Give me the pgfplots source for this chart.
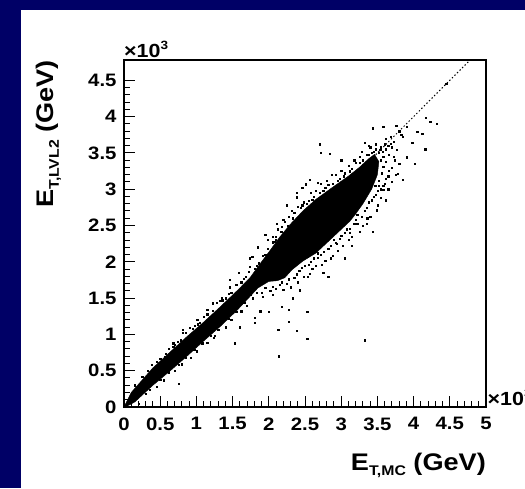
\documentclass[border=0pt]{standalone}
\usepackage{pgfplots}
\pgfplotsset{compat=1.18}
\usepackage{fontspec}
\setmainfont{Liberation Sans}[FakeStretch=1.13]
\definecolor{slidebg}{RGB}{0,0,102}
\begin{document}
\begin{tikzpicture}[x=1pt,y=1pt]
\useasboundingbox (0,0) rectangle (525,488);
\fill[slidebg] (0,0) rectangle (525,488);
\fill[white] (21,0) rectangle (525,478);
\begin{axis}[
  at={(124pt,81pt)}, anchor=south west,
  scale only axis, width=362pt, height=347pt,
  xmin=0, xmax=5, ymin=0, ymax=4.78,
  axis on top,
  clip mode=individual,
  axis line style={line width=1.4pt, black},
  xtick={0,0.5,1,1.5,2,2.5,3,3.5,4,4.5,5},
  xticklabels={0,0.5,1,1.5,2,2.5,3,3.5,4,4.5,5},
  ytick={0,0.5,1,1.5,2,2.5,3,3.5,4,4.5},
  yticklabels={0,0.5,1,1.5,2,2.5,3,3.5,4,4.5},
  minor tick num=4,
  tick align=inside,
  tick pos=left,
  major tick length=11pt,
  minor tick length=6pt,
  every tick/.style={line width=1pt, black},
  tick label style={font=\fontsize{18}{18}\selectfont\bfseries},
  xticklabel style={yshift=-7pt},
  yticklabel style={xshift=-4pt},
]
% dense core of the distribution
\addplot[fill=black, draw=black, line width=0.4pt] coordinates {
(0.00,0.00) (0.10,0.20) (0.40,0.54) (0.64,0.76) (0.87,0.97) (1.09,1.16)
(1.33,1.38) (1.56,1.60) (1.74,1.78) (1.90,2.00) (2.02,2.16) (2.15,2.34)
(2.30,2.52) (2.47,2.70) (2.65,2.86) (2.90,3.04) (3.10,3.18) (3.25,3.30)
(3.38,3.42) (3.46,3.48) (3.52,3.38) (3.50,3.20)
(3.42,3.00) (3.30,2.80) (3.20,2.66) (3.12,2.56) (2.95,2.40) (2.80,2.26)
(2.65,2.12) (2.47,2.01) (2.32,1.89) (2.22,1.78) (2.12,1.74) (2.00,1.73)
(1.85,1.64) (1.70,1.48) (1.56,1.33) (1.33,1.11) (1.09,0.90) (0.87,0.70)
(0.64,0.50) (0.40,0.30) (0.15,0.07) (0.02,0.00)
};
% scattered events
\addplot[only marks, mark=square*, mark size=0.6pt, black] coordinates {
(2.707,3.62) (2.845,3.485) (2.72,3.50) (3.33,3.64) (3.43,3.84) (3.58,3.86)
(3.76,3.88) (4.17,3.99) (4.32,3.90) (4.23,3.93) (4.16,3.55) (4.01,3.35)
(3.85,3.13) (3.62,2.85) (3.44,2.41) (3.33,0.92) (3.14,2.22) (3.05,2.05)
(2.82,1.79) (2.53,1.31) (2.53,0.94) (2.39,1.05) (2.13,1.06) (2.14,0.70)
(1.53,0.88) (0.75,0.32) (1.95,2.37) (1.77,2.07) (2.25,2.78) (2.39,2.95)
(2.51,3.07) (2.46,3.02) (3.00,3.40) (2.28,1.34) (2.27,1.17) (2.00,1.31)
(1.88,1.32) (1.81,1.23) (1.81,1.16) (1.60,1.10) (1.24,0.95) (0.81,1.06)
(0.68,0.83) (1.15,1.34) (1.33,1.46) (1.05,1.16) (1.46,1.75) (1.74,2.05)
(1.85,2.19) (2.10,2.30) (2.67,2.12) (2.73,1.96) (2.75,1.85) (2.54,1.79)
(2.43,1.61) (2.33,1.50) (2.18,1.38) (2.54,2.07) (2.94,2.25) (3.12,2.40)
(3.22,2.53) (3.36,2.60) (3.49,2.71) (3.58,2.99) (3.78,3.21) (3.74,3.40)
(3.91,3.44) (3.98,3.64) (3.85,3.72) (4.05,3.79) (4.12,3.77) (3.77,3.54)
(3.54,3.54) (3.58,3.31) (3.36,3.17) (3.12,3.24) (3.08,3.15) (2.87,3.20)
(2.67,3.09) (2.57,3.13) (2.39,2.89) (2.46,2.78) (2.20,2.58) (2.11,2.53)
(1.99,2.30) (1.85,2.20) (1.74,1.93) (1.58,1.85) (1.46,1.65) (1.35,1.50)
(1.23,1.43) (1.15,1.29) (1.01,1.20) (0.91,1.09) (0.81,1.02) (0.68,0.88)
(0.57,0.69) (4.45,4.45)
(0.25,0.42) (0.33,0.50) (0.50,0.66) (0.58,0.73) (0.70,0.86) (0.78,0.92)
(0.95,1.08) (1.02,1.14) (1.15,1.27) (1.22,1.33) (1.40,1.50) (1.48,1.58)
(1.62,1.72) (1.68,1.79) (1.80,1.90) (1.86,1.98) (1.95,2.10) (2.05,2.27)
(2.10,2.35) (2.22,2.55) (2.35,2.68) (2.40,2.76) (2.55,2.84) (2.62,2.90)
(2.75,2.98) (2.82,3.06) (2.98,3.15) (3.05,3.22) (3.15,3.28) (3.20,3.36)
(3.30,3.40) (3.35,3.47) (3.45,3.52) (3.55,3.58) (3.60,3.62) (3.65,3.60)
(0.20,0.05) (0.30,0.18) (0.45,0.28) (0.55,0.37) (0.70,0.50) (0.80,0.59)
(0.92,0.68) (1.00,0.77) (1.15,0.89) (1.25,0.98) (1.40,1.10) (1.48,1.20)
(1.62,1.32) (1.70,1.40) (1.78,1.50) (1.90,1.58) (2.05,1.66) (2.15,1.68)
(2.25,1.70) (2.38,1.83) (2.45,1.92) (2.55,1.96) (2.62,2.05) (2.72,2.10)
(2.85,2.22) (2.90,2.30) (3.00,2.36) (3.08,2.45) (3.18,2.52) (3.22,2.65)
(3.32,2.70) (3.38,2.82) (3.45,2.90) (3.50,2.98) (3.58,3.05) (3.62,3.15)
(3.66,3.25)
(0.15,0.30) (0.38,0.58) (0.45,0.62) (0.62,0.80) (0.74,0.90) (0.85,1.02)
(0.98,1.12) (1.10,1.24) (1.28,1.44) (1.36,1.47) (1.45,1.56) (1.55,1.68)
(1.65,1.77) (1.72,1.86) (1.83,1.95) (1.92,2.08) (1.98,2.18) (2.08,2.28)
(2.17,2.42) (2.26,2.50) (2.33,2.60) (2.44,2.74) (2.52,2.80) (2.60,2.86)
(2.70,2.95) (2.78,3.02) (2.88,3.08) (2.95,3.12) (3.03,3.18) (3.12,3.25)
(3.26,3.36) (3.38,3.47) (3.48,3.55) (3.52,3.50) (3.42,3.50) (3.57,3.52)
(3.62,3.55) (3.68,3.63) (3.70,3.58) (3.72,3.66)
(0.35,0.24) (0.50,0.38) (0.62,0.48) (0.75,0.58) (0.85,0.68) (0.97,0.79)
(1.08,0.88) (1.20,0.98) (1.30,1.07) (1.45,1.22) (1.55,1.31) (1.66,1.44)
(1.75,1.55) (1.83,1.58) (1.95,1.64) (2.02,1.60) (2.10,1.63) (2.18,1.72)
(2.28,1.76) (2.35,1.78) (2.42,1.88) (2.50,1.95) (2.58,2.00) (2.68,2.06)
(2.76,2.14) (2.82,2.18) (2.92,2.26) (2.98,2.32) (3.05,2.40) (3.12,2.46)
(3.20,2.58) (3.28,2.62) (3.35,2.75) (3.42,2.85) (3.48,2.92) (3.55,3.00)
(3.60,3.08) (3.52,3.05) (3.65,3.18) (3.70,3.30) (2.20,1.62) (2.40,1.72)
(2.60,1.90) (2.88,2.08) (3.10,2.30) (3.30,2.50) (1.92,1.52) (2.05,1.55)
(3.55,3.40) (3.58,3.45) (3.56,3.22) (3.52,3.12) (3.47,3.05) (3.40,3.32)
(2.05,2.35) (2.12,2.45) (2.18,2.48) (2.28,2.62) (2.32,2.70) (2.48,2.82)
(2.58,2.95) (2.65,2.98) (2.72,3.08) (2.80,3.12) (2.92,3.20) (3.00,3.25)
(3.10,3.32) (3.18,3.40) (3.25,3.45) (3.28,3.52) (3.40,3.58) (3.48,3.62)
(3.38,3.60) (3.62,3.70) (3.68,3.72) (3.80,3.80) (3.83,3.75) (3.90,3.86)
(2.30,1.65) (2.48,1.80) (2.56,1.84) (2.65,1.95) (2.78,2.02) (2.85,2.05)
(2.95,2.15) (3.02,2.22) (3.15,2.35) (3.25,2.42) (3.35,2.52) (3.40,2.62)
(3.50,2.78) (3.55,2.88) (3.65,3.00) (3.70,3.10) (3.75,3.20) (3.80,3.35)
(3.72,3.45) (3.62,3.38) (3.66,3.48) (3.45,3.35)
};
% y = x reference line
\addplot[black, line width=1pt, dash pattern=on 1.4pt off 2.2pt] coordinates {(0,0) (4.78,4.78)};
% labels
\node[anchor=base west, font=\fontsize{19}{19}\selectfont\bfseries, inner sep=0pt]
  at (rel axis cs:0,1.008) {×10\raisebox{0.75ex}{\fontsize{12}{12}\selectfont 3}};
\node[anchor=base west, font=\fontsize{19}{19}\selectfont\bfseries, inner sep=0pt]
  at (rel axis cs:1.004,0.005) {×10\raisebox{0.75ex}{\fontsize{12}{12}\selectfont 3}};
\node[anchor=base east, font=\fontsize{24}{24}\selectfont\bfseries, inner sep=0pt]
  at (rel axis cs:1,-0.1816) {E\raisebox{-0.45ex}{\fontsize{14}{14}\selectfont T,MC} (GeV)};
\node[rotate=90, anchor=base east, font=\fontsize{24}{24}\selectfont\bfseries, inner sep=0pt]
  at (rel axis cs:-0.196,1) {E\raisebox{-0.45ex}{\fontsize{14}{14}\selectfont T,LVL2} (GeV)};
\end{axis}
\end{tikzpicture}
\end{document}
